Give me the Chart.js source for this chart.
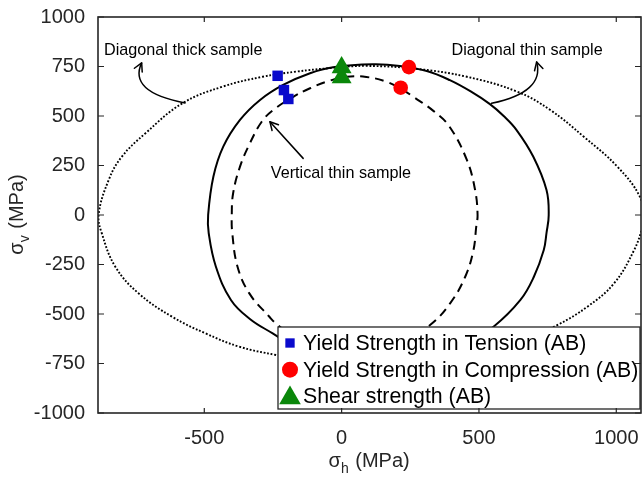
<!DOCTYPE html>
<html><head><meta charset="utf-8">
<script src="https://cdn.jsdelivr.net/npm/chart.js@4.4.0/dist/chart.umd.min.js"></script>
<style>html,body{margin:0;padding:0;background:#fff;} #wrap{width:642px;height:481px;}</style>
</head><body><div id="wrap"><canvas id="c" width="642" height="481"></canvas></div>
<script>
// ---- tick labels ----
const xTicks = [-500, 0, 500, 1000];
const yTicks = [-1000, -750, -500, -250, 0, 250, 500, 750, 1000];

// ---- measured strengths ----
const tensionX = [-233, -210, -194];
const tensionY = [703, 631, 586];
const compressionX = [245, 215];
const compressionY = [747, 643];
const shearX = [0, 0];
const shearY = [745, 695];

// ---- yield loci (MPa) ----
const thickX = [100, -50, -150, -239, -373, -495, -617, -739, -824, -873, -885, -848, -800, -714, -580, -434, -288, -166, -32, 90, 273, 456, 639, 760, 882, 1004, 1086, 1100, 1096, 1065, 992, 895, 785, 650, 450, 250, 100];
const thickY = [-753, -745, -728, -707, -665, -598, -514, -396, -261, -93, 0, 177, 295, 413, 564, 648, 698, 724, 743, 753, 738, 698, 623, 530, 395, 244, 92, -20, -59, -177, -345, -463, -556, -640, -715, -748, -753];

const diagThinX = [131, 0, -130, -251, -334, -403, -458, -484, -486, -467, -431, -370, -297, -213, -115, -31, 114, 212, 310, 394, 470, 540, 590, 637, 698, 746, 754, 746, 736, 700, 651, 553, 450, 300, 131];
const diagThinY = [-761, -750, -700, -598, -525, -429, -260, -91, 0, 193, 345, 480, 581, 657, 716, 746, 761, 753, 727, 681, 624, 560, 500, 429, 294, 126, 0, -90, -177, -312, -429, -564, -650, -730, -761];

const vertThinX = [50, -50, -150, -233, -263, -336, -379, -398, -400, -395, -370, -334, -291, -249, -176, -115, -55, 18, 90, 163, 224, 261, 334, 392, 456, 486, 495, 490, 480, 450, 395, 322, 220, 130, 50];
const vertThinY = [-700, -690, -640, -556, -514, -396, -261, -93, 0, 110, 244, 362, 471, 530, 597, 640, 673, 698, 697, 673, 631, 597, 526, 448, 278, 126, 0, -60, -177, -312, -446, -556, -640, -685, -700];

const seriesLabels = ['Yield Strength in Tension (AB)', 'Yield Strength in Compression (AB)', 'Shear strength (AB)'];

// ---- annotations (data units) ----
const notes = [
  {text: 'Diagonal thick sample', x: -865, y: 833},
  {text: 'Diagonal thin sample', x: 400, y: 833},
  {text: 'Vertical thin sample', x: -258, y: 207}
];
const arrows = [
  {from: [-570, 566], ctrl: [-778, 621], to: [-728, 768]},
  {from: [546, 564], ctrl: [740, 621], to: [710, 773]},
  {from: [-140, 286], ctrl: null, to: [-261, 471]}
];

const zip = (xs, ys) => xs.map((v, i) => ({x: v, y: ys[i]}));
const FONT = '"Liberation Sans", Arial, sans-serif';

const datasets = [
  {label: seriesLabels[0], data: zip(tensionX, tensionY), pointStyle: 'rect', pointRadius: 7.4, backgroundColor: '#0a0acc', borderWidth: 0, showLine: false, inLegend: true, legendRadius: 6.6},
  {label: seriesLabels[1], data: zip(compressionX, compressionY), pointStyle: 'circle', pointRadius: 7.3, backgroundColor: '#ff0000', borderWidth: 0, showLine: false, inLegend: true, legendRadius: 8},
  {label: seriesLabels[2], data: zip(shearX, shearY), pointStyle: 'triangle', pointRadius: 11.5, backgroundColor: '#0a870a', borderWidth: 0, showLine: false, inLegend: true, legendRadius: 12.5},
  {label: 'Vertical thin', data: zip(vertThinX, vertThinY), showLine: true, pointRadius: 0, borderColor: '#000', borderWidth: 2, borderDash: [9, 6], tension: 0.4, fill: false},
  {label: 'Diagonal thin', data: zip(diagThinX, diagThinY), showLine: true, pointRadius: 0, borderColor: '#000', borderWidth: 2, tension: 0.4, fill: false},
  {label: 'Diagonal thick', data: zip(thickX, thickY), showLine: true, pointRadius: 0, borderColor: '#000', borderWidth: 1.9, borderDash: [1.8, 1.8], tension: 0.4, fill: false}
];

function arrowHead(ctx, x, y, ang) {
  const L = 9, s = 0.5;
  ctx.beginPath();
  ctx.moveTo(x - L * Math.cos(ang - s), y - L * Math.sin(ang - s));
  ctx.lineTo(x, y);
  ctx.lineTo(x - L * Math.cos(ang + s), y - L * Math.sin(ang + s));
  ctx.stroke();
}

function drawSubTitle(ctx, main, sub, rest, cx, cy, rotate) {
  ctx.save();
  ctx.translate(cx, cy);
  if (rotate) ctx.rotate(-Math.PI / 2);
  const f1 = '20px ' + FONT, f2 = '14px ' + FONT;
  ctx.font = f1; const w1 = ctx.measureText(main).width; const w3 = ctx.measureText(rest).width;
  ctx.font = f2; const w2 = ctx.measureText(sub).width;
  let x = -(w1 + w2 + w3) / 2;
  ctx.textBaseline = 'alphabetic'; ctx.textAlign = 'left'; ctx.fillStyle = '#262626';
  ctx.font = f1; ctx.fillText(main, x, 7); x += w1;
  ctx.font = f2; ctx.fillText(sub, x, 13); x += w2 + 1;
  ctx.font = f1; ctx.fillText(rest, x, 7);
  ctx.restore();
}

const decor = {
  id: 'decor',
  afterDatasetsDraw(chart) {
    const {ctx, scales: {x, y}} = chart;
    ctx.save();
    ctx.fillStyle = '#000';
    ctx.font = '16.2px ' + FONT;
    ctx.textAlign = 'left'; ctx.textBaseline = 'middle';
    notes.forEach(n => ctx.fillText(n.text, x.getPixelForValue(n.x), y.getPixelForValue(n.y)));
    ctx.strokeStyle = '#000'; ctx.lineWidth = 1.5; ctx.lineCap = 'round'; ctx.lineJoin = 'round';
    arrows.forEach(a => {
      const p0 = [x.getPixelForValue(a.from[0]), y.getPixelForValue(a.from[1])];
      const p1 = [x.getPixelForValue(a.to[0]), y.getPixelForValue(a.to[1])];
      ctx.beginPath();
      ctx.moveTo(p0[0], p0[1]);
      let ang;
      if (a.ctrl) {
        const c = [x.getPixelForValue(a.ctrl[0]), y.getPixelForValue(a.ctrl[1])];
        ctx.quadraticCurveTo(c[0], c[1], p1[0], p1[1]);
        ang = Math.atan2(p1[1] - c[1], p1[0] - c[0]);
      } else {
        ctx.lineTo(p1[0], p1[1]);
        ang = Math.atan2(p1[1] - p0[1], p1[0] - p0[0]);
      }
      ctx.stroke();
      arrowHead(ctx, p1[0], p1[1], ang);
    });
    ctx.restore();
  },
  afterDraw(chart) {
    const {ctx, chartArea: a, scales: {x, y}} = chart;
    ctx.save();
    // legend box
    const right = a.right - 1, bottom = a.bottom - 4, w = 362, h = 82;
    const left = right - w, top = bottom - h;
    ctx.fillStyle = '#fff'; ctx.fillRect(left, top, w, h);
    ctx.strokeStyle = '#262626'; ctx.lineWidth = 1.3; ctx.strokeRect(left, top, w, h);
    ctx.font = '21.3px ' + FONT; ctx.textBaseline = 'middle'; ctx.textAlign = 'left';
    chart.data.datasets.filter(d => d.inLegend).forEach((d, i) => {
      const cy = top + 16 + i * 26.7;
      ctx.fillStyle = d.backgroundColor;
      Chart.helpers.drawPoint(ctx, {pointStyle: d.pointStyle, radius: d.legendRadius, rotation: 0, borderWidth: 0}, left + 12, cy + (d.pointStyle === 'triangle' ? 1.5 : 0));
      ctx.fillStyle = '#000';
      ctx.fillText(d.label, left + 25, cy + 1);
    });
    // frame and inward ticks
    ctx.strokeStyle = '#262626'; ctx.lineWidth = 1.6;
    ctx.strokeRect(a.left, a.top, a.right - a.left, a.bottom - a.top);
    ctx.lineWidth = 1.2;
    ctx.beginPath();
    xTicks.forEach(v => { const px = x.getPixelForValue(v); ctx.moveTo(px, a.bottom); ctx.lineTo(px, a.bottom - 5); ctx.moveTo(px, a.top); ctx.lineTo(px, a.top + 5); });
    yTicks.forEach(v => { const py = y.getPixelForValue(v); ctx.moveTo(a.left, py); ctx.lineTo(a.left + 6, py); ctx.moveTo(a.right, py); ctx.lineTo(a.right - 6, py); });
    ctx.stroke();
    ctx.restore();
    // axis titles
    drawSubTitle(ctx, 'σ', 'h', ' (MPa)', x.getPixelForValue(0) + 27, 460, false);
    drawSubTitle(ctx, 'σ', 'v', ' (MPa)', 16, (a.top + a.bottom) / 2, true);
  }
};

new Chart(document.getElementById('c'), {
  type: 'scatter',
  data: {datasets},
  options: {
    responsive: false, animation: false, events: [],
    layout: {autoPadding: false, padding: {top: 17, right: 1, left: 0, bottom: 0}},
    plugins: {legend: {display: false}, tooltip: {enabled: false}},
    scales: {
      x: {
        type: 'linear', min: -887, max: 1090,
        afterBuildTicks: s => { s.ticks = xTicks.map(v => ({value: v})); },
        afterFit: s => { s.height = 68; s.paddingLeft = 0; s.paddingRight = 0; },
        grid: {display: false}, border: {display: false},
        ticks: {font: {family: FONT, size: 20}, color: '#262626', padding: 5, maxRotation: 0, callback: v => String(v)}
      },
      y: {
        type: 'linear', min: -1000, max: 1000,
        afterBuildTicks: s => { s.ticks = yTicks.map(v => ({value: v})); },
        afterFit: s => { s.width = 98; s.paddingTop = 0; s.paddingBottom = 0; },
        grid: {display: false}, border: {display: false},
        ticks: {font: {family: FONT, size: 20}, color: '#262626', padding: 5, callback: v => String(v)}
      }
    }
  },
  plugins: [decor]
});
</script>
</body></html>
